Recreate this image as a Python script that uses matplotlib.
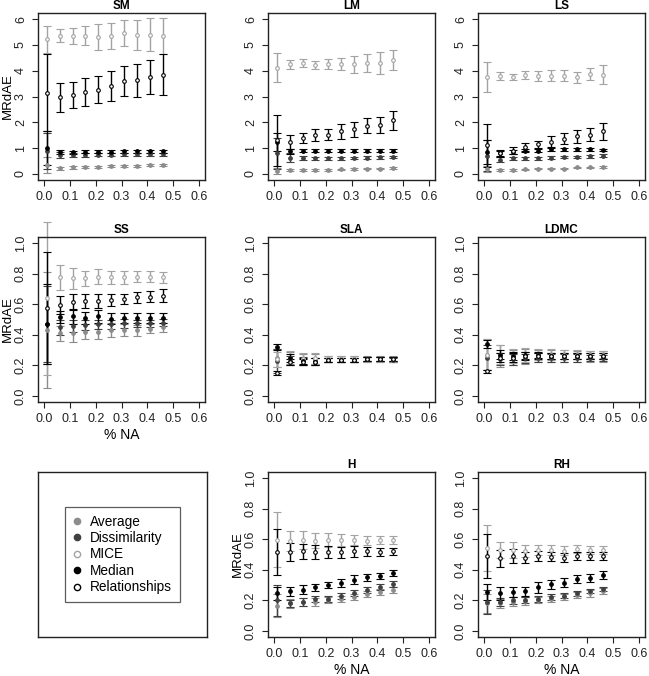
import matplotlib
matplotlib.use("Agg")
import matplotlib.pyplot as plt
from matplotlib.lines import Line2D

plt.rcParams['font.family'] = ['Liberation Sans', 'DejaVu Sans']

pct_na = [0.01, 0.06, 0.11, 0.16, 0.21, 0.26, 0.31, 0.36, 0.41, 0.46]
methods = ['Average', 'Dissimilarity', 'MICE', 'Median', 'Relationships']

# rows follow the order of `methods`
SM_mean = [[0.35, 0.22, 0.25, 0.28, 0.28, 0.30, 0.32, 0.32, 0.35, 0.35],
           [0.90, 0.72, 0.72, 0.73, 0.74, 0.74, 0.75, 0.75, 0.76, 0.76],
           [5.22, 5.35, 5.35, 5.35, 5.30, 5.35, 5.47, 5.40, 5.40, 5.35],
           [1.00, 0.83, 0.84, 0.86, 0.86, 0.86, 0.87, 0.87, 0.87, 0.87],
           [3.15, 2.97, 3.05, 3.18, 3.27, 3.40, 3.60, 3.63, 3.75, 3.85]]
SM_err = [[0.30, 0.06, 0.05, 0.04, 0.04, 0.05, 0.04, 0.04, 0.04, 0.04],
          [0.70, 0.12, 0.07, 0.07, 0.06, 0.06, 0.06, 0.06, 0.06, 0.06],
          [0.52, 0.25, 0.30, 0.37, 0.50, 0.50, 0.50, 0.58, 0.65, 0.70],
          [0.65, 0.08, 0.06, 0.06, 0.06, 0.06, 0.06, 0.06, 0.06, 0.06],
          [1.50, 0.57, 0.50, 0.55, 0.52, 0.58, 0.58, 0.63, 0.66, 0.80]]

LM_mean = [[0.12, 0.15, 0.14, 0.14, 0.15, 0.17, 0.18, 0.20, 0.20, 0.24],
           [0.80, 0.62, 0.60, 0.60, 0.60, 0.60, 0.62, 0.63, 0.64, 0.65],
           [4.12, 4.25, 4.30, 4.22, 4.25, 4.25, 4.25, 4.30, 4.30, 4.42],
           [1.25, 0.88, 0.90, 0.90, 0.90, 0.90, 0.90, 0.90, 0.90, 0.90],
           [1.30, 1.23, 1.40, 1.50, 1.52, 1.65, 1.72, 1.87, 1.90, 2.07]]
LM_err = [[0.12, 0.04, 0.03, 0.03, 0.03, 0.03, 0.03, 0.03, 0.03, 0.04],
          [0.60, 0.17, 0.08, 0.07, 0.06, 0.06, 0.05, 0.05, 0.05, 0.05],
          [0.55, 0.17, 0.14, 0.17, 0.20, 0.24, 0.32, 0.33, 0.44, 0.40],
          [0.35, 0.10, 0.05, 0.05, 0.05, 0.05, 0.05, 0.05, 0.05, 0.05],
          [1.00, 0.28, 0.20, 0.23, 0.22, 0.29, 0.30, 0.29, 0.32, 0.38]]

LS_mean = [[0.20, 0.15, 0.15, 0.17, 0.20, 0.20, 0.20, 0.25, 0.25, 0.28],
           [0.70, 0.55, 0.60, 0.60, 0.60, 0.62, 0.65, 0.65, 0.68, 0.70],
           [3.75, 3.80, 3.75, 3.83, 3.80, 3.80, 3.80, 3.75, 3.88, 3.85],
           [0.85, 0.80, 0.85, 0.90, 0.90, 0.95, 0.95, 0.95, 0.95, 0.93],
           [1.10, 0.80, 0.90, 1.05, 1.15, 1.25, 1.37, 1.45, 1.52, 1.65]]
LS_err = [[0.12, 0.04, 0.03, 0.03, 0.03, 0.03, 0.03, 0.03, 0.03, 0.04],
          [0.60, 0.10, 0.07, 0.07, 0.06, 0.06, 0.05, 0.05, 0.05, 0.05],
          [0.57, 0.17, 0.12, 0.17, 0.18, 0.21, 0.21, 0.22, 0.24, 0.36],
          [0.45, 0.10, 0.07, 0.06, 0.06, 0.06, 0.05, 0.05, 0.05, 0.05],
          [0.85, 0.14, 0.14, 0.15, 0.13, 0.20, 0.22, 0.24, 0.24, 0.32]]

SS_mean = [[0.43, 0.41, 0.41, 0.42, 0.42, 0.43, 0.43, 0.43, 0.44, 0.45],
           [0.47, 0.45, 0.46, 0.465, 0.47, 0.47, 0.475, 0.475, 0.475, 0.48],
           [0.64, 0.775, 0.77, 0.77, 0.78, 0.775, 0.775, 0.78, 0.78, 0.775],
           [0.47, 0.515, 0.52, 0.51, 0.52, 0.505, 0.51, 0.51, 0.51, 0.51],
           [0.575, 0.595, 0.615, 0.62, 0.62, 0.63, 0.635, 0.645, 0.65, 0.655]]
SS_err = [[0.38, 0.05, 0.06, 0.05, 0.05, 0.045, 0.04, 0.035, 0.03, 0.03],
          [0.25, 0.05, 0.04, 0.035, 0.03, 0.03, 0.03, 0.025, 0.025, 0.025],
          [0.50, 0.08, 0.07, 0.05, 0.05, 0.045, 0.045, 0.035, 0.035, 0.035],
          [0.26, 0.04, 0.05, 0.04, 0.04, 0.035, 0.035, 0.035, 0.03, 0.03],
          [0.365, 0.06, 0.055, 0.045, 0.045, 0.04, 0.035, 0.035, 0.037, 0.042]]

SLA_mean = [[0.25, 0.25, 0.24, 0.24, 0.24, 0.24, 0.24, 0.24, 0.24, 0.24],
            [0.23, 0.23, 0.23, 0.23, 0.235, 0.235, 0.235, 0.24, 0.24, 0.235],
            [0.24, 0.25, 0.24, 0.245, 0.24, 0.24, 0.24, 0.24, 0.24, 0.24],
            [0.32, 0.25, 0.23, 0.225, 0.235, 0.235, 0.235, 0.24, 0.24, 0.24],
            [0.15, 0.22, 0.22, 0.225, 0.235, 0.235, 0.235, 0.24, 0.24, 0.24]]
SLA_err = [[0.06, 0.04, 0.035, 0.035, 0.02, 0.02, 0.02, 0.018, 0.018, 0.018],
           [0.08, 0.03, 0.025, 0.02, 0.015, 0.015, 0.015, 0.012, 0.012, 0.012],
           [0.05, 0.045, 0.04, 0.035, 0.02, 0.02, 0.02, 0.015, 0.015, 0.015],
           [0.02, 0.025, 0.02, 0.02, 0.015, 0.015, 0.015, 0.012, 0.012, 0.012],
           [0.01, 0.02, 0.02, 0.02, 0.015, 0.015, 0.015, 0.012, 0.012, 0.012]]

LDMC_mean = [[0.27, 0.26, 0.25, 0.26, 0.26, 0.26, 0.26, 0.26, 0.26, 0.26],
             [0.25, 0.24, 0.24, 0.245, 0.25, 0.25, 0.25, 0.25, 0.25, 0.25],
             [0.27, 0.27, 0.26, 0.27, 0.27, 0.27, 0.27, 0.27, 0.27, 0.27],
             [0.34, 0.27, 0.26, 0.265, 0.265, 0.26, 0.26, 0.26, 0.26, 0.26],
             [0.16, 0.25, 0.25, 0.26, 0.26, 0.26, 0.26, 0.26, 0.26, 0.26]]
LDMC_err = [[0.10, 0.07, 0.05, 0.05, 0.04, 0.04, 0.04, 0.035, 0.035, 0.035],
            [0.08, 0.04, 0.035, 0.03, 0.03, 0.025, 0.025, 0.025, 0.02, 0.02],
            [0.10, 0.06, 0.045, 0.045, 0.035, 0.035, 0.03, 0.03, 0.025, 0.025],
            [0.025, 0.03, 0.025, 0.025, 0.02, 0.02, 0.02, 0.02, 0.02, 0.02],
            [0.01, 0.03, 0.03, 0.025, 0.02, 0.02, 0.02, 0.02, 0.02, 0.02]]

H_mean = [[0.165, 0.18, 0.19, 0.19, 0.20, 0.21, 0.22, 0.24, 0.255, 0.27],
          [0.20, 0.18, 0.19, 0.21, 0.21, 0.23, 0.25, 0.265, 0.285, 0.305],
          [0.595, 0.59, 0.595, 0.59, 0.595, 0.595, 0.595, 0.59, 0.595, 0.595],
          [0.245, 0.26, 0.27, 0.285, 0.30, 0.315, 0.335, 0.35, 0.36, 0.38],
          [0.515, 0.515, 0.52, 0.515, 0.515, 0.515, 0.52, 0.52, 0.515, 0.52]]
H_err = [[0.075, 0.03, 0.025, 0.025, 0.02, 0.02, 0.02, 0.02, 0.02, 0.02],
         [0.10, 0.025, 0.025, 0.02, 0.02, 0.02, 0.02, 0.02, 0.02, 0.02],
         [0.18, 0.065, 0.06, 0.05, 0.045, 0.04, 0.035, 0.03, 0.025, 0.025],
         [0.045, 0.03, 0.03, 0.025, 0.02, 0.025, 0.03, 0.025, 0.022, 0.02],
         [0.15, 0.06, 0.05, 0.045, 0.04, 0.035, 0.035, 0.03, 0.025, 0.02]]

RH_mean = [[0.18, 0.18, 0.19, 0.195, 0.20, 0.21, 0.22, 0.235, 0.245, 0.26],
           [0.19, 0.19, 0.20, 0.20, 0.21, 0.22, 0.23, 0.245, 0.26, 0.275],
           [0.54, 0.53, 0.53, 0.525, 0.53, 0.53, 0.525, 0.535, 0.53, 0.53],
           [0.255, 0.245, 0.255, 0.26, 0.285, 0.305, 0.315, 0.34, 0.345, 0.365],
           [0.49, 0.475, 0.49, 0.48, 0.49, 0.485, 0.48, 0.49, 0.49, 0.49]]
RH_err = [[0.06, 0.03, 0.03, 0.025, 0.02, 0.02, 0.02, 0.02, 0.02, 0.02],
          [0.08, 0.025, 0.025, 0.02, 0.02, 0.02, 0.015, 0.015, 0.015, 0.015],
          [0.15, 0.05, 0.055, 0.04, 0.035, 0.03, 0.03, 0.025, 0.025, 0.025],
          [0.05, 0.04, 0.03, 0.03, 0.035, 0.03, 0.028, 0.025, 0.025, 0.025],
          [0.145, 0.057, 0.043, 0.038, 0.033, 0.03, 0.03, 0.025, 0.025, 0.027]]

# colour, face colour per method
styles = {
    'Average': ('#8c8c8c', '#8c8c8c'),
    'Dissimilarity': ('#404040', '#404040'),
    'MICE': ('#a3a3a3', 'white'),
    'Median': ('black', 'black'),
    'Relationships': ('black', 'white'),
}

W, H = 649, 676
fig = plt.figure(figsize=(W / 100, H / 100), dpi=100)


def px_axes(left, top, right, bottom):
    return fig.add_axes([left / W, 1 - bottom / H, (right - left) / W, (bottom - top) / H])


def panel(box, title, means, errs, ymax, yticks, ylabel=False, xlabel=False):
    ax = px_axes(*box)
    for i, m in enumerate(methods):
        col, face = styles[m]
        ax.errorbar(pct_na, means[i], yerr=errs[i], fmt='o', color=col, mfc=face,
                    mec=col, ms=2.6, mew=0.8, elinewidth=1.0, capsize=2.8,
                    capthick=1.0, clip_on=False)
    ax.set_xlim(-0.024, 0.624)
    ax.set_ylim(-0.04 * ymax, 1.04 * ymax)
    ax.set_xticks([0.0, 0.1, 0.2, 0.3, 0.4, 0.5, 0.6])
    ax.set_xticklabels(['0.0', '0.1', '0.2', '0.3', '0.4', '0.5', '0.6'])
    ax.set_yticks(yticks)
    ax.set_yticklabels([f'{v:g}' if ymax > 1 else f'{v:.1f}' for v in yticks],
                       rotation=90, va='center')
    ax.tick_params(labelsize=9, length=4.5, width=0.8, pad=3.5, colors='#222222')
    for s in ax.spines.values():
        s.set_linewidth(1.0)
        s.set_color('#222222')
    ax.set_title(title, fontsize=8.5, fontweight='bold', pad=3)
    if ylabel:
        ax.set_ylabel('MRdAE', fontsize=9.5)
        ax.yaxis.set_label_coords(-0.145, 0.5)
    if xlabel:
        ax.set_xlabel('% NA', fontsize=10, labelpad=2)
    return ax


big = [0, 1, 2, 3, 4, 5, 6]
small = [0.0, 0.2, 0.4, 0.6, 0.8, 1.0]

panel((38, 13, 205, 180), 'SM', SM_mean, SM_err, 6, big, ylabel=True)
panel((268, 13, 435, 180), 'LM', LM_mean, LM_err, 6, big)
panel((478, 13, 645, 180), 'LS', LS_mean, LS_err, 6, big)
panel((38, 237, 205, 402), 'SS', SS_mean, SS_err, 1, small, ylabel=True, xlabel=True)
panel((268, 237, 435, 402), 'SLA', SLA_mean, SLA_err, 1, small)
panel((478, 237, 645, 402), 'LDMC', LDMC_mean, LDMC_err, 1, small)
panel((268, 472, 435, 637), 'H', H_mean, H_err, 1, small, ylabel=True, xlabel=True)
panel((478, 472, 645, 637), 'RH', RH_mean, RH_err, 1, small, xlabel=True)

# legend panel
lax = px_axes(38, 472, 207, 637)
lax.set_xticks([])
lax.set_yticks([])
for s in lax.spines.values():
    s.set_linewidth(1.0)
    s.set_color('#222222')
handles = [Line2D([], [], ls='none', marker='o', ms=4.5, color=styles[m][0],
                  mfc=styles[m][1], mec=styles[m][0], mew=1.0) for m in methods]
leg = lax.legend(handles, methods, loc='center', fontsize=9.8, frameon=True,
                 fancybox=False, handlelength=0.6, handletextpad=0.7,
                 labelspacing=0.18, borderpad=0.55, borderaxespad=0)
leg.get_frame().set_edgecolor('#333333')
leg.get_frame().set_linewidth(0.9)

fig.savefig('out.png', dpi=100)
